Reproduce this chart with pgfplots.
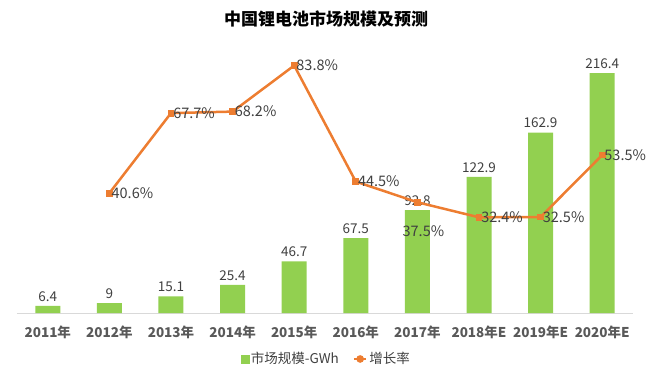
\documentclass[border=0pt]{standalone}
\usepackage{pgfplots}
\pgfplotsset{compat=1.18}
\usepackage{fontspec}
\setmainfont{Noto Sans CJK SC}
\definecolor{barG}{HTML}{92D050}
\definecolor{lineO}{HTML}{ED7D31}
\definecolor{txt}{HTML}{404040}
\definecolor{tick}{HTML}{595959}
\begin{document}
\begin{tikzpicture}
\path[use as bounding box] (0pt,0pt) rectangle (646pt,368pt);
\node[font=\bfseries\fontsize{17}{19}\selectfont, text=black] at (326pt,349pt) {中国锂电池市场规模及预测};
\begin{axis}[at={(17pt,55pt)}, anchor=south west, scale only axis,
  width=616pt, height=277pt,
  xmin=-0.5, xmax=9.5, ymin=0, ymax=250,
  hide y axis, axis x line*=bottom,
  x axis line style={draw=black!15, line width=0.8pt},
  xtick={0,...,9},
  xticklabels={2011年,2012年,2013年,2014年,2015年,2016年,2017年,2018年E,2019年E,2020年E},
  major tick length=0,
  xticklabel style={font=\bfseries\fontsize{13.5}{15}\selectfont, text=tick, yshift=-9pt},
  ybar, bar width=25pt,
  nodes near coords, point meta=explicit symbolic,
  every node near coord/.append style={font=\fontsize{13.5}{15}\selectfont, text=txt, yshift=1pt},
  clip=false]
\addplot[fill=barG, draw=none] coordinates {
  (0,6.4)[6.4] (1,9)[9] (2,15.1)[15.1] (3,25.4)[25.4] (4,46.7)[46.7]
  (5,67.5)[67.5] (6,92.8)[92.8] (7,122.9)[122.9] (8,162.9)[162.9] (9,216.4)[216.4]};
\end{axis}
\begin{axis}[at={(17pt,55pt)}, anchor=south west, scale only axis,
  width=616pt, height=277pt,
  xmin=-0.5, xmax=9.5, ymin=0, ymax=93.8,
  hide axis, clip=false,
  legend style={at={(0.502,-0.166)}, anchor=center, draw=none, fill=none,
    font=\fontsize{13.5}{15}\selectfont, text=txt, legend columns=2,
    /tikz/every even column/.append style={column sep=12pt}},
  legend cell align=left]
\addlegendimage{legend image code/.code={\fill[barG] (0pt,-4pt) rectangle (8pt,4pt);}}
\addlegendentry{市场规模-GWh}
\addplot[lineO, line width=2.5pt, mark=square*, mark size=2.2pt,
  mark options={fill=lineO, draw=lineO},
  legend image code/.code={\draw[lineO, line width=2.5pt] (0pt,0pt) -- (12pt,0pt); \fill[lineO] (6pt,0pt) circle (2.5pt);},
  nodes near coords, point meta=explicit symbolic,
  every node near coord/.style={anchor=west, font=\fontsize{14.5}{16}\selectfont, text=txt, inner sep=1pt}]
  coordinates {
  (1,40.6)[40.6\%] (2,67.7)[67.7\%] (3,68.2)[68.2\%] (4,83.8)[83.8\%]
  (5,44.5)[44.5\%] (6,37.5)[] (7,32.4)[32.4\%] (8,32.5)[32.5\%] (9,53.5)[53.5\%]};
\addlegendentry{增长率}
\addplot[draw=none, mark=none, nodes near coords, point meta=explicit symbolic,
  every node near coord/.style={anchor=center, yshift=-29pt, xshift=6pt, font=\fontsize{14.5}{16}\selectfont, text=txt}]
  coordinates {(6,37.5)[37.5\%]};
\end{axis}
\end{tikzpicture}
\end{document}
